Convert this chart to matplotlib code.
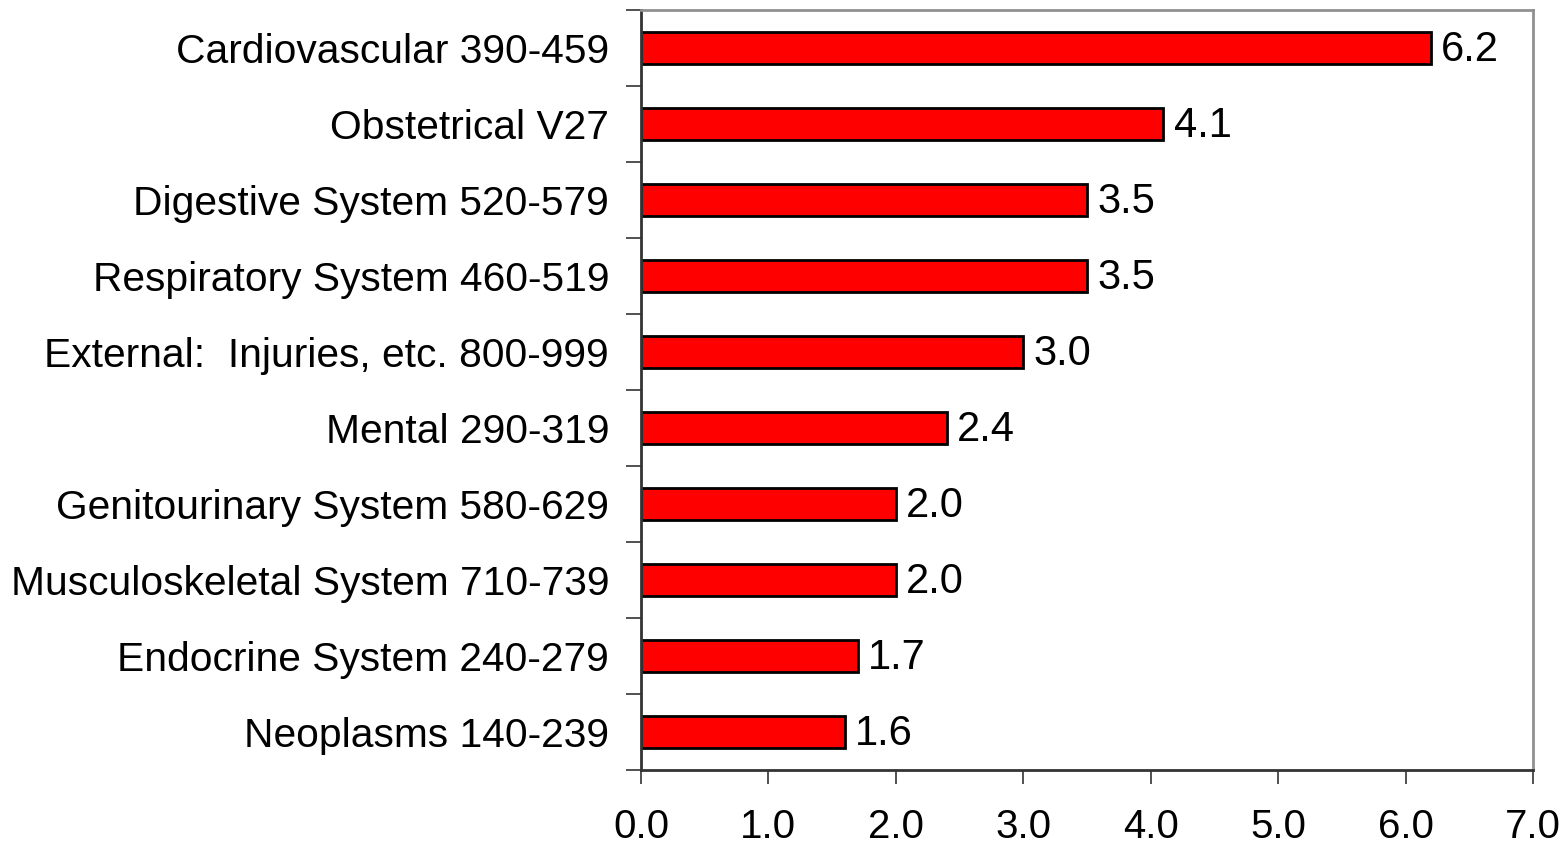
import matplotlib.pyplot as plt
import matplotlib

matplotlib.rc('font', family=['Liberation Sans', 'DejaVu Sans'])

categories = ['Cardiovascular 390-459', 'Obstetrical V27', 'Digestive System 520-579',
              'Respiratory System 460-519', 'External:  Injuries, etc. 800-999',
              'Mental 290-319', 'Genitourinary System 580-629',
              'Musculoskeletal System 710-739', 'Endocrine System 240-279',
              'Neoplasms 140-239']
values = [6.2, 4.1, 3.5, 3.5, 3.0, 2.4, 2.0, 2.0, 1.7, 1.6]
xticks = [0, 1, 2, 3, 4, 5, 6, 7]

fig = plt.figure(figsize=(15.65, 8.43), dpi=100)
ax = fig.add_axes([641 / 1565, 73 / 843, 892 / 1565, 760 / 843])

pos = list(range(len(categories)))[::-1]
ax.barh(pos, values, height=0.42, color='#ff0000', edgecolor='black', linewidth=2)

for p, v in zip(pos, values):
    ax.text(v + 0.08, p - 0.03, f'{v:.1f}', va='center', ha='left', fontsize=30)

ax.set_xlim(0, 7)
ax.set_ylim(-0.5, len(categories) - 0.5)
ax.set_xticks(xticks)
ax.set_xticklabels([f'{t:.1f}' for t in xticks], fontsize=29)

# category labels as minor ticks, tick marks at boundaries
ax.set_yticks([i - 0.5 for i in range(len(categories) + 1)])
ax.set_yticklabels([])
ax.set_yticks(pos, minor=True)
ax.set_yticklabels(categories, minor=True, fontsize=29.3)
ax.tick_params(axis='y', which='minor', length=0, pad=23)
ax.tick_params(axis='y', which='major', length=11, width=1.2, color='#333333')
ax.tick_params(axis='x', length=10, width=1.2, color='#333333', pad=17)

ax.spines['left'].set_color('#333333')
ax.spines['bottom'].set_color('#333333')
ax.spines['top'].set_color('#909090')
ax.spines['right'].set_color('#909090')
for s in ax.spines.values():
    s.set_linewidth(2)

plt.savefig('out.png', dpi=100)
